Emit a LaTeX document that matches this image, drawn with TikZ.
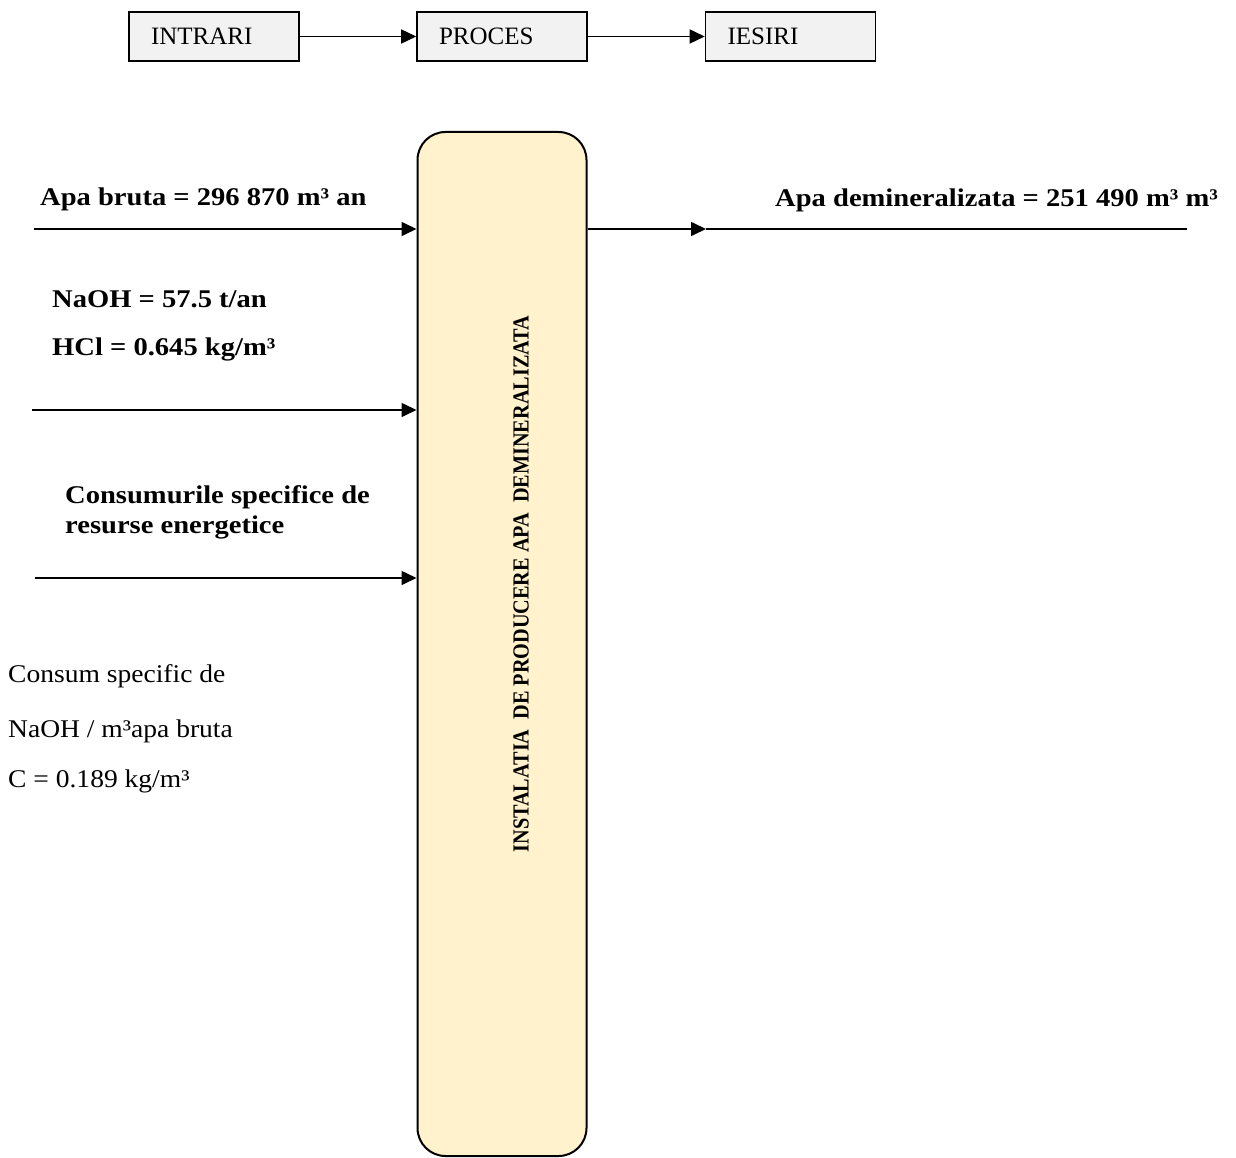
\documentclass[tikz,border=0pt]{standalone}
\usepackage{fontspec}
\setmainfont{Liberation Serif}[BoldFeatures={FakeStretch=1.12}]
\newfontfamily\titlefont{Liberation Serif}[FakeStretch=0.88]
\newfontfamily\widefont{Liberation Serif}[FakeStretch=1.08]
\usetikzlibrary{arrows.meta}
\definecolor{boxfill}{HTML}{FFF2CC}
\definecolor{topfill}{HTML}{F2F2F2}
\begin{document}
\begin{tikzpicture}[x=1pt,y=-1pt,
  every node/.style={font=\fontsize{25}{30}\selectfont},
  topbox/.style={draw, line width=1.6pt, fill=topfill, minimum width=170pt, minimum height=49pt, text width=126pt, align=left, inner xsep=22pt, inner ysep=0pt},
  arr/.style={line width=1.6pt, -{Triangle[length=15pt,width=14pt]}},
  plain/.style={line width=1.6pt},
  lab/.style={anchor=base west, inner sep=0pt, font=\fontsize{25.5}{30}\selectfont\bfseries},
  txt/.style={anchor=base west, inner sep=0pt, font=\fontsize{25.5}{30}\widefont},
  instbox/.style={draw, line width=2pt, fill=boxfill, rounded corners=28pt, minimum width=169pt, minimum height=1024pt, inner sep=0pt}]
\useasboundingbox (0,0) rectangle (1236,1158);

% top flow
\node[topbox] (in) at (214,36.5) {INTRARI};
\node[topbox] (proc) at (502,36.5) {PROCES};
\node[topbox] (out) at (790.5,36.5) {IESIRI};
\draw[arr] (in) -- (proc);
\draw[arr] (proc) -- (out);

% main box
\node[instbox] (inst) at (502,644) {};
\node[rotate=90, inner sep=0pt, font=\fontsize{23}{28}\titlefont\bfseries] (title) at (521,584) {INSTALATIA\ \ DE PRODUCERE APA\ \ DEMINERALIZATA};

% inputs
\coordinate (i1) at (34,229);
\coordinate (i2) at (32,410);
\coordinate (i3) at (35,578);
\draw[arr] (i1) -- (i1 -| inst.west);
\draw[arr] (i2) -- (i2 -| inst.west);
\draw[arr] (i3) -- (i3 -| inst.west);

% output
\coordinate (o1) at (706,229);
\coordinate (o2) at (1187,229);
\draw[arr] (inst.east |- o1) -- (o1);
\draw[plain] (o1) -- (o2);

% labels
\node[lab] (l1) at (40,206) {Apa bruta = 296 870 m³ an};
\node[lab] (l2) at (52,307) {NaOH = 57.5 t/an};
\node[lab] (l3) at (52,355) {HCl = 0.645 kg/m³};
\node[lab] (l4) at (65,503) {Consumurile specifice de};
\node[lab] (l5) at (65,533) {resurse energetice};
\node[lab] (l6) at (775,207) {Apa demineralizata = 251 490 m³ m³};

\node[txt] (t1) at (8,682) {Consum specific de};
\node[txt] (t2) at (8,737) {NaOH / m³apa bruta};
\node[txt] (t3) at (8,787) {C = 0.189 kg/m³};
\end{tikzpicture}
\end{document}
